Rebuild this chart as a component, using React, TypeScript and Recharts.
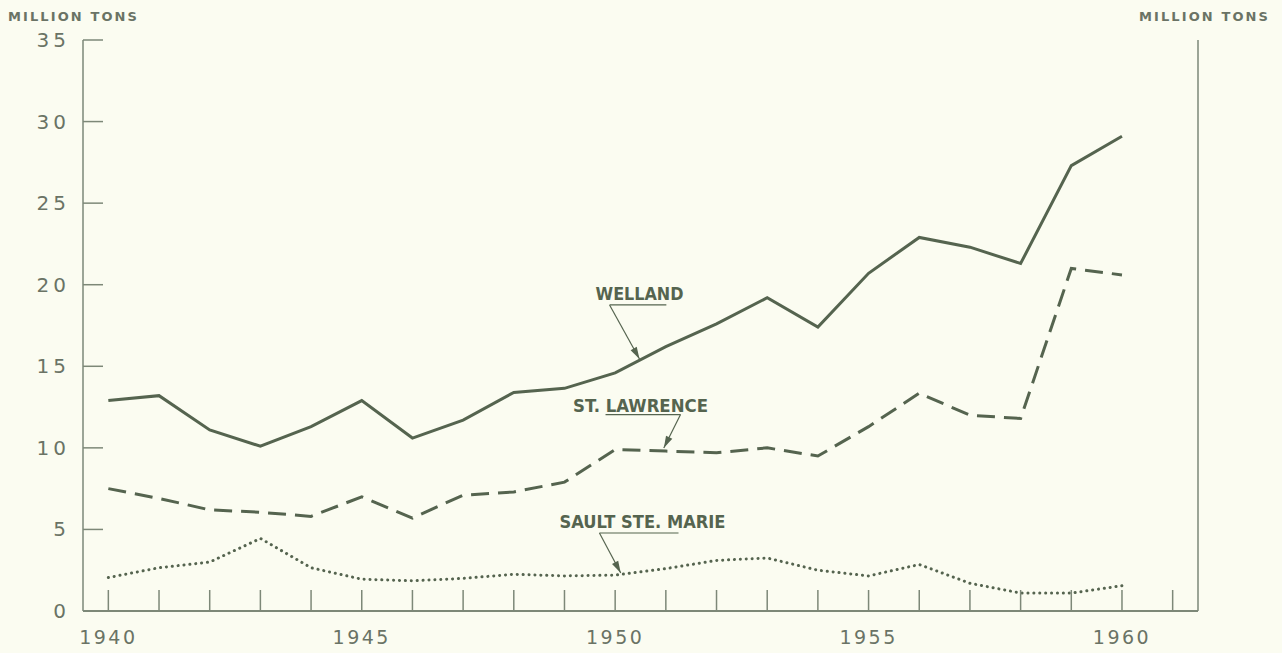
import React from 'react';
import { LineChart, Line, XAxis, YAxis, ReferenceLine, ReferenceDot } from 'recharts';

const years = [1940, 1941, 1942, 1943, 1944, 1945, 1946, 1947, 1948, 1949, 1950, 1951, 1952, 1953, 1954, 1955, 1956, 1957, 1958, 1959, 1960];
const welland = [12.9, 13.2, 11.1, 10.1, 11.3, 12.9, 10.6, 11.7, 13.4, 13.65, 14.6, 16.2, 17.6, 19.2, 17.4, 20.7, 22.9, 22.3, 21.3, 27.3, 29.1];
const stLawrence = [7.5, 6.9, 6.2, 6.05, 5.8, 7.0, 5.7, 7.1, 7.3, 7.9, 9.9, 9.8, 9.7, 10.0, 9.5, 11.3, 13.35, 12.0, 11.8, 21.0, 20.6];
const saultSteMarie = [2.05, 2.65, 3.0, 4.45, 2.65, 1.95, 1.85, 2.0, 2.25, 2.15, 2.2, 2.6, 3.1, 3.25, 2.5, 2.15, 2.85, 1.7, 1.1, 1.1, 1.55];

const xTicks = [1940, 1941, 1942, 1943, 1944, 1945, 1946, 1947, 1948, 1949, 1950, 1951, 1952, 1953, 1954, 1955, 1956, 1957, 1958, 1959, 1960, 1961];
const xLabels = [1940, 1945, 1950, 1955, 1960];
const yTicks = [0, 5, 10, 15, 20, 25, 30, 35];
const xDomain = [1939.5, 1961.5];
const yDomain = [0, 35];
const unitLabel = 'MILLION TONS';

const annotationNames = ['WELLAND', 'ST. LAWRENCE', 'SAULT STE. MARIE'];
const annotationTextWidth = [88, 135, 166];
const annotationTextPos = [[1950.48, 19.07], [1950.5, 12.2], [1950.54, 5.09]];
const annotationUnderline = [[1949.89, 1951.01, 18.76], [1949.81, 1951.29, 12.04], [1949.69, 1951.25, 4.78]];
const annotationArrow = [[1949.89, 18.76, 1950.48, 15.45], [1951.29, 12.04, 1950.96, 9.99], [1949.69, 4.78, 1950.11, 2.33]];

const data = years.map((y, i) => ({
  year: y,
  welland: welland[i],
  stLawrence: stLawrence[i],
  sault: saultSteMarie[i],
}));

const LINE = '#55644f';
const AXIS = '#7d8878';
const TEXT = '#6a7365';
const BG = '#fbfcf1';
const FONT = '"DejaVu Sans", "Liberation Sans", sans-serif';

const XTick = (props: any) => {
  const { x, y, payload } = props;
  const v = payload.value;
  return (
    <g>
      <line x1={x} y1={y - 21} x2={x} y2={y} stroke={AXIS} strokeWidth={1.5} />
      {xLabels.includes(v) && (
        <text x={x} y={y + 26} textAnchor="middle" dominantBaseline="central" fill={TEXT} fontSize={19} letterSpacing={2.5} fontFamily={FONT}>
          {v}
        </text>
      )}
    </g>
  );
};

const LeftTick = (props: any) => {
  const { x, y, payload } = props;
  return (
    <g>
      {payload.value !== 0 && <line x1={x} y1={y} x2={x + 20} y2={y} stroke={AXIS} strokeWidth={1.5} />}
      <text x={x - 13} y={y} textAnchor="end" dominantBaseline="central" fill={TEXT} fontSize={20} letterSpacing={4} fontFamily={FONT}>
        {payload.value}
      </text>
    </g>
  );
};

const RightTick = (props: any) => {
  const { x, y, payload } = props;
  return (
    <g>
      {payload.value !== 0 && <line x1={x - 20} y1={y} x2={x} y2={y} stroke={AXIS} strokeWidth={1.5} />}
      <text x={x + 12} y={y} textAnchor="start" dominantBaseline="central" fill={TEXT} fontSize={20} letterSpacing={4} fontFamily={FONT}>
        {payload.value}
      </text>
    </g>
  );
};

const ArrowShape = (p: any) => {
  const { x1, y1, x2, y2 } = p;
  const ang = Math.atan2(y2 - y1, x2 - x1);
  const len = 12;
  const w = 3.5;
  const bx = x2 - len * Math.cos(ang);
  const by = y2 - len * Math.sin(ang);
  const px = -Math.sin(ang) * w;
  const py = Math.cos(ang) * w;
  return (
    <g>
      <line x1={x1} y1={y1} x2={x2} y2={y2} stroke={LINE} strokeWidth={1.2} />
      <polygon points={`${x2},${y2} ${bx + px},${by + py} ${bx - px},${by - py}`} fill={LINE} />
    </g>
  );
};

const UnderlineShape = (p: any) => (
  <line x1={p.x1} y1={p.y1} x2={p.x2} y2={p.y2} stroke={LINE} strokeWidth={1.2} />
);

const makeTextShape = (label: string, width: number) => (p: any) => (
  <text
    x={p.cx}
    y={p.cy}
    textAnchor="middle"
    fill={LINE}
    fontSize={17}
    fontWeight="bold"
    fontFamily={FONT}
    textLength={width}
    lengthAdjust="spacingAndGlyphs"
  >
    {label}
  </text>
);

const unitStyle: React.CSSProperties = {
  position: 'absolute',
  top: 9,
  fontFamily: FONT,
  fontSize: 13,
  fontWeight: 'bold',
  color: TEXT,
  letterSpacing: 2.1,
  whiteSpace: 'nowrap',
};

export default function App() {
  return (
    <div style={{ position: 'absolute', left: 0, top: 0, width: 1282, height: 653, background: BG }}>
      <div style={{ ...unitStyle, left: 8 }}>{unitLabel}</div>
      <div style={{ ...unitStyle, left: 1139 }}>{unitLabel}</div>
      <LineChart width={1282} height={653} data={data} margin={{ top: 40, right: 24, bottom: 0, left: 23 }}>
        <XAxis
          dataKey="year"
          type="number"
          domain={xDomain}
          ticks={xTicks}
          interval={0}
          height={42}
          tickSize={0}
          tickMargin={0}
          tickLine={false}
          axisLine={{ stroke: AXIS, strokeWidth: 2 }}
          tick={<XTick />}
          allowDataOverflow
        />
        <YAxis
          yAxisId="left"
          domain={yDomain}
          ticks={yTicks}
          interval={0}
          width={60}
          tickSize={0}
          tickMargin={0}
          tickLine={false}
          axisLine={{ stroke: AXIS, strokeWidth: 1.5 }}
          tick={<LeftTick />}
        />
        <YAxis
          yAxisId="right"
          orientation="right"
          domain={yDomain}
          ticks={yTicks}
          interval={0}
          width={60}
          tickSize={0}
          tickMargin={0}
          tickLine={false}
          axisLine={{ stroke: AXIS, strokeWidth: 1.5 }}
          tick={<RightTick />}
        />
        <Line yAxisId="left" type="linear" dataKey="welland" stroke={LINE} strokeWidth={3} dot={false} isAnimationActive={false} />
        <Line yAxisId="left" type="linear" dataKey="stLawrence" stroke={LINE} strokeWidth={3} strokeDasharray="18 9" dot={false} isAnimationActive={false} />
        <Line yAxisId="left" type="linear" dataKey="sault" stroke={LINE} strokeWidth={3} strokeDasharray="0.1 5.8" strokeLinecap="round" dot={false} isAnimationActive={false} />
        {annotationNames.map((name, i) => (
          <ReferenceDot key={'t' + i} yAxisId="left" x={annotationTextPos[i][0]} y={annotationTextPos[i][1]} r={1} shape={makeTextShape(name, annotationTextWidth[i])} />
        ))}
        {annotationNames.map((name, i) => (
          <ReferenceLine
            key={'u' + i}
            yAxisId="left"
            segment={[{ x: annotationUnderline[i][0], y: annotationUnderline[i][2] }, { x: annotationUnderline[i][1], y: annotationUnderline[i][2] }]}
            shape={UnderlineShape}
          />
        ))}
        {annotationNames.map((name, i) => (
          <ReferenceLine
            key={'a' + i}
            yAxisId="left"
            segment={[{ x: annotationArrow[i][0], y: annotationArrow[i][1] }, { x: annotationArrow[i][2], y: annotationArrow[i][3] }]}
            shape={ArrowShape}
          />
        ))}
      </LineChart>
    </div>
  );
}
